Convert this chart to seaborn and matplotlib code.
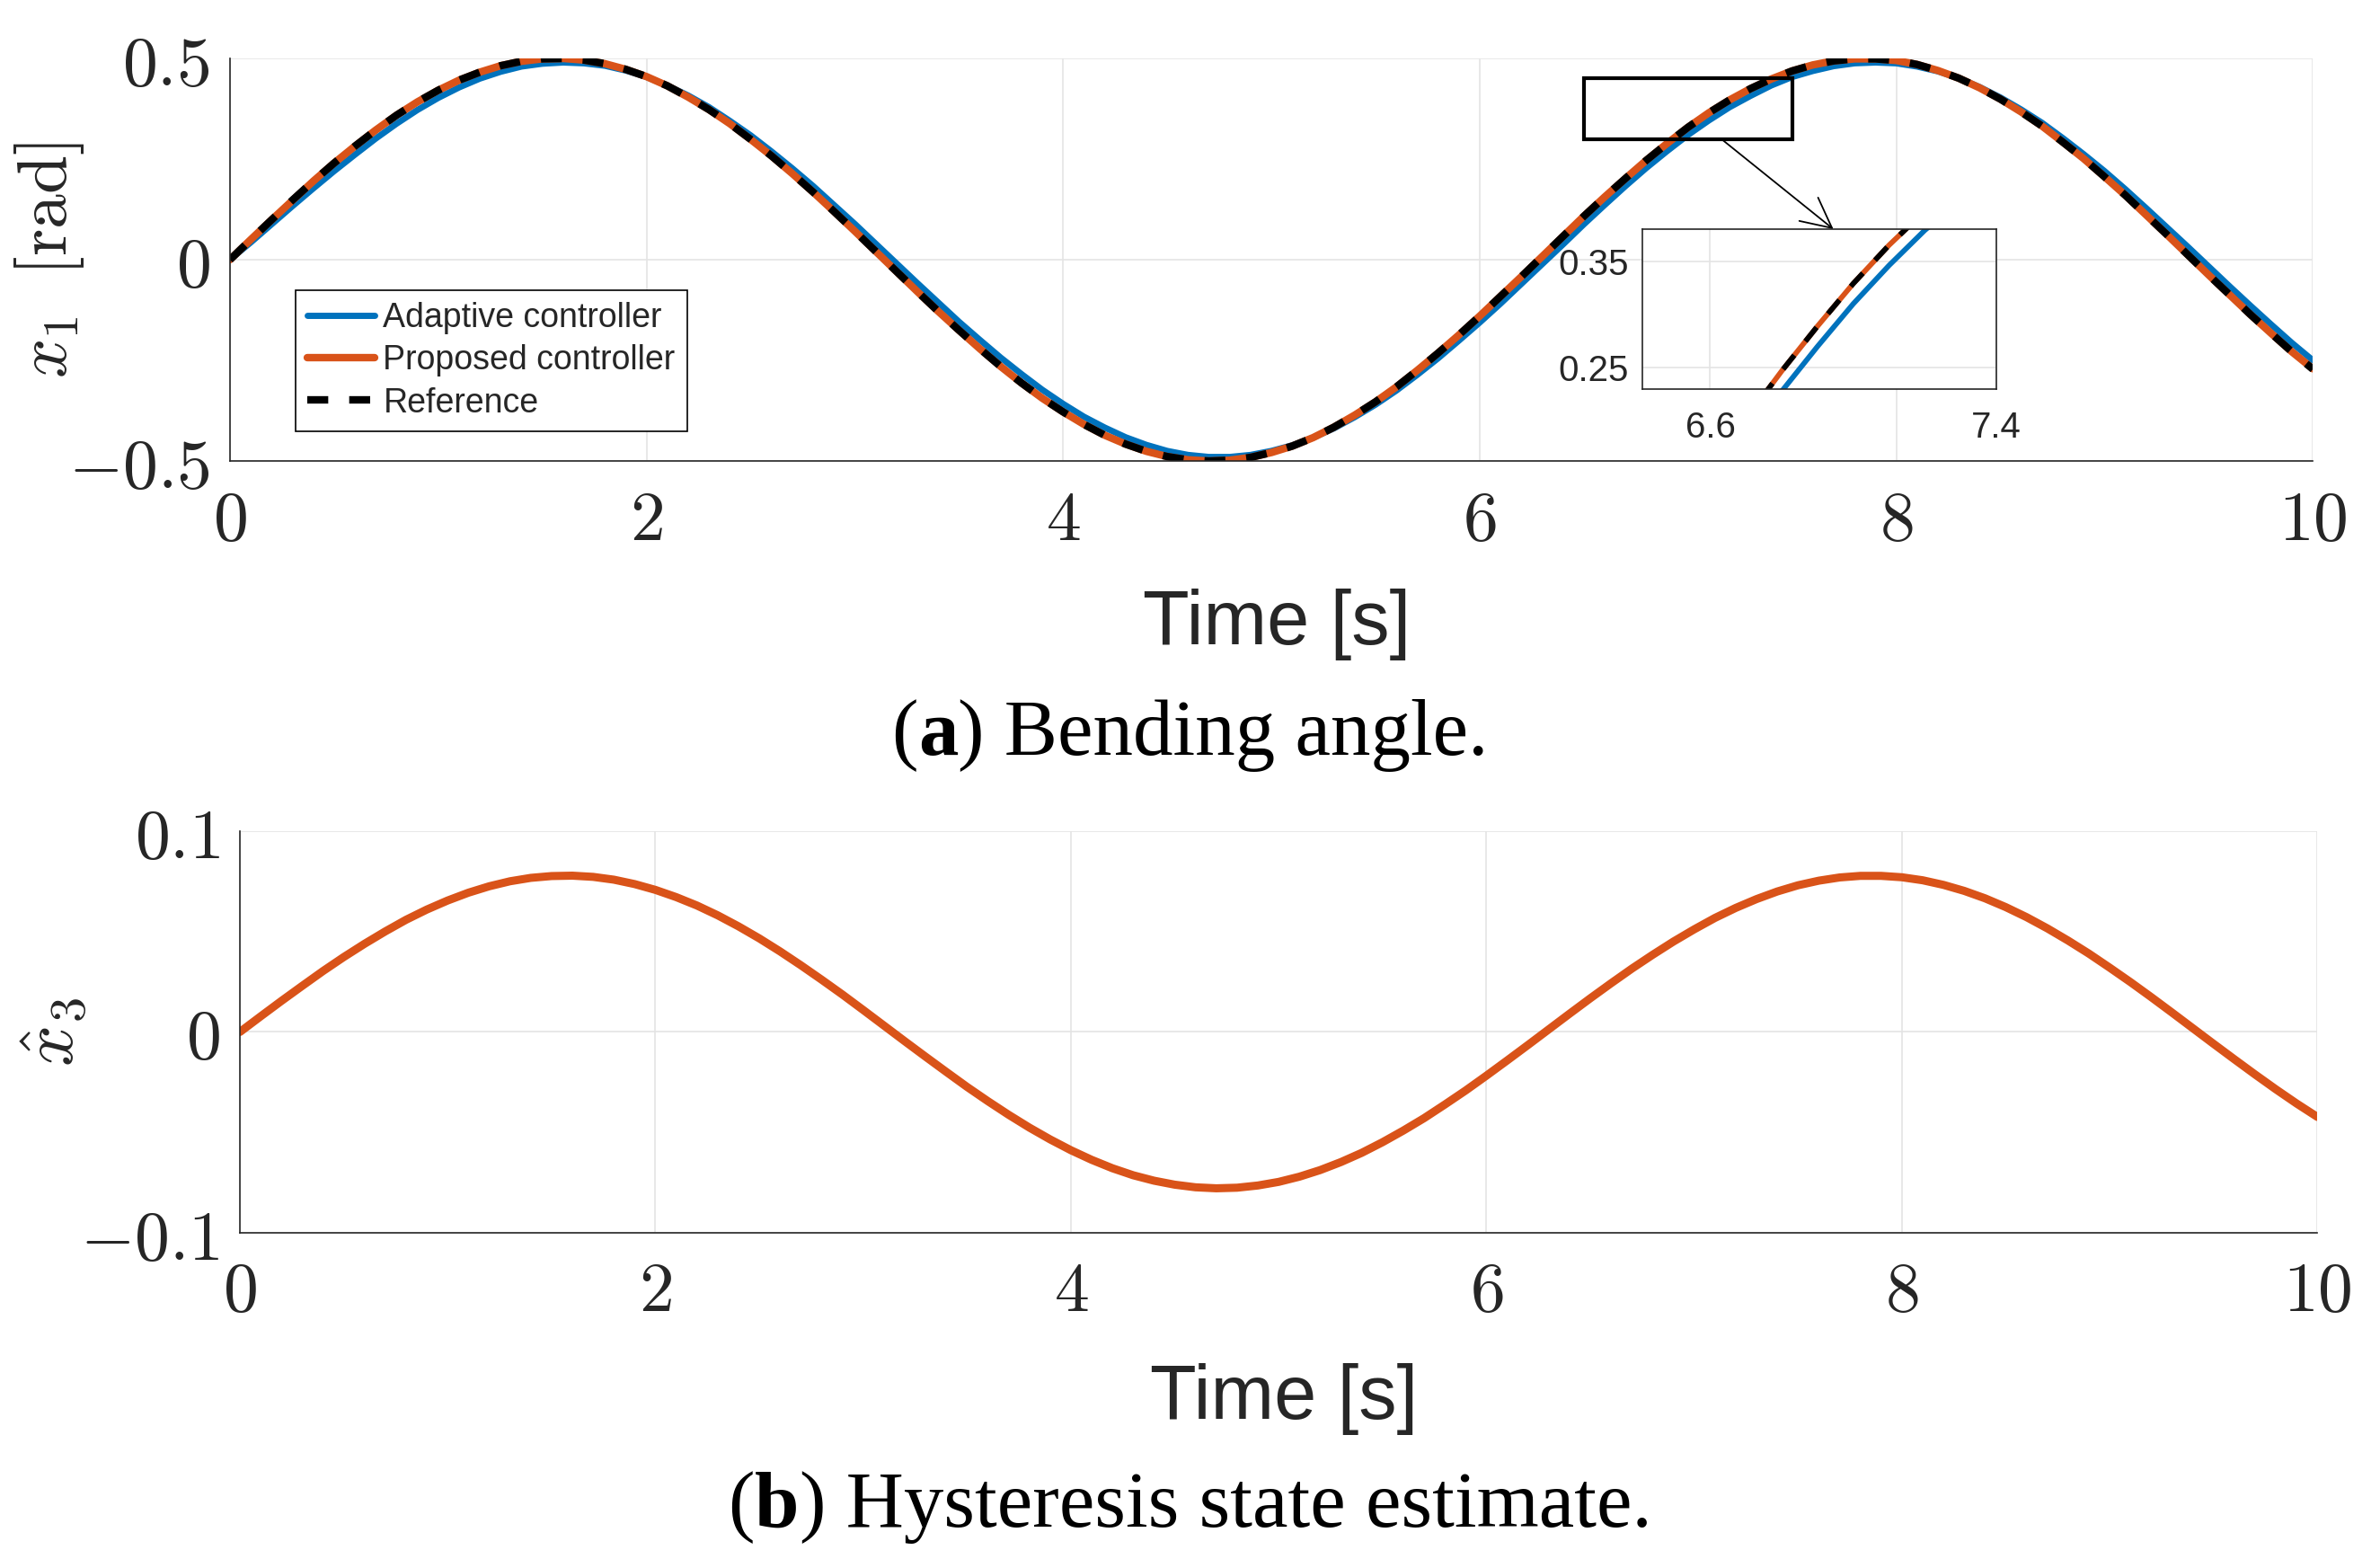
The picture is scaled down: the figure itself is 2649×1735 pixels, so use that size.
import numpy as np
import pandas as pd
import matplotlib
matplotlib.use("Agg")
import matplotlib.pyplot as plt
import seaborn as sns
from matplotlib.patches import Rectangle
from matplotlib.offsetbox import TextArea, HPacker, AnchoredOffsetbox

# sample times [s]
time_s = np.round(np.arange(0, 10.001, 0.1), 1)

# bending angle x1 [rad] (rows = 1 s)
ref_x1 = [0.000, 0.050, 0.099, 0.148, 0.195, 0.240, 0.282, 0.322, 0.359, 0.392,
          0.421, 0.446, 0.466, 0.482, 0.493, 0.499, 0.500, 0.496, 0.487, 0.473,
          0.455, 0.432, 0.404, 0.373, 0.338, 0.299, 0.258, 0.214, 0.168, 0.120,
          0.071, 0.021, -0.029, -0.079, -0.128, -0.175, -0.221, -0.265, -0.306, -0.344,
          -0.378, -0.409, -0.436, -0.458, -0.476, -0.489, -0.497, -0.500, -0.498, -0.491,
          -0.479, -0.463, -0.442, -0.416, -0.386, -0.353, -0.316, -0.275, -0.232, -0.187,
          -0.140, -0.091, -0.042, 0.008, 0.058, 0.108, 0.156, 0.202, 0.247, 0.289,
          0.329, 0.365, 0.397, 0.425, 0.449, 0.469, 0.484, 0.494, 0.499, 0.499,
          0.495, 0.485, 0.470, 0.451, 0.427, 0.399, 0.367, 0.332, 0.292, 0.251,
          0.206, 0.160, 0.111, 0.062, 0.012, -0.038, -0.087, -0.136, -0.183, -0.229,
          -0.272]
proposed_x1 = [0.000, 0.050, 0.099, 0.147, 0.195, 0.240, 0.282, 0.322, 0.359, 0.392,
               0.421, 0.446, 0.466, 0.482, 0.493, 0.499, 0.500, 0.496, 0.487, 0.473,
               0.455, 0.432, 0.404, 0.373, 0.338, 0.299, 0.258, 0.214, 0.168, 0.120,
               0.071, 0.021, -0.029, -0.079, -0.128, -0.175, -0.221, -0.265, -0.306, -0.344,
               -0.378, -0.409, -0.436, -0.458, -0.476, -0.489, -0.497, -0.500, -0.498, -0.491,
               -0.479, -0.463, -0.442, -0.416, -0.386, -0.353, -0.316, -0.275, -0.232, -0.187,
               -0.140, -0.091, -0.042, 0.008, 0.058, 0.108, 0.156, 0.202, 0.247, 0.289,
               0.329, 0.365, 0.397, 0.425, 0.449, 0.469, 0.484, 0.494, 0.499, 0.499,
               0.495, 0.485, 0.470, 0.451, 0.427, 0.399, 0.367, 0.332, 0.292, 0.251,
               0.206, 0.160, 0.111, 0.062, 0.012, -0.038, -0.087, -0.136, -0.183, -0.229,
               -0.271]
adaptive_x1 = [0.000, 0.043, 0.088, 0.133, 0.177, 0.220, 0.261, 0.301, 0.338, 0.372,
               0.402, 0.428, 0.450, 0.467, 0.480, 0.487, 0.490, 0.488, 0.482, 0.470,
               0.454, 0.433, 0.408, 0.379, 0.345, 0.309, 0.269, 0.227, 0.183, 0.136,
               0.089, 0.040, -0.009, -0.058, -0.106, -0.154, -0.199, -0.243, -0.284, -0.323,
               -0.358, -0.390, -0.417, -0.441, -0.460, -0.475, -0.485, -0.490, -0.490, -0.485,
               -0.475, -0.461, -0.442, -0.419, -0.391, -0.360, -0.325, -0.286, -0.245, -0.201,
               -0.156, -0.109, -0.060, -0.011, 0.038, 0.088, 0.136, 0.183, 0.228, 0.270,
               0.310, 0.346, 0.379, 0.407, 0.433, 0.454, 0.469, 0.481, 0.488, 0.490,
               0.488, 0.480, 0.468, 0.451, 0.429, 0.403, 0.373, 0.340, 0.302, 0.262,
               0.220, 0.175, 0.128, 0.080, 0.032, -0.017, -0.066, -0.114, -0.161, -0.207,
               -0.250]

# hysteresis state estimate
x3_hat = [0.0000, 0.0078, 0.0155, 0.0230, 0.0304, 0.0374, 0.0440, 0.0502, 0.0560, 0.0611,
          0.0656, 0.0695, 0.0727, 0.0752, 0.0769, 0.0778, 0.0780, 0.0774, 0.0760, 0.0738,
          0.0709, 0.0673, 0.0631, 0.0582, 0.0527, 0.0467, 0.0402, 0.0333, 0.0261, 0.0187,
          0.0110, 0.0032, -0.0046, -0.0123, -0.0199, -0.0274, -0.0345, -0.0413, -0.0477, -0.0536,
          -0.0590, -0.0638, -0.0680, -0.0715, -0.0742, -0.0762, -0.0775, -0.0780, -0.0777, -0.0766,
          -0.0748, -0.0722, -0.0689, -0.0649, -0.0603, -0.0550, -0.0492, -0.0430, -0.0362, -0.0292,
          -0.0218, -0.0142, -0.0065, 0.0013, 0.0091, 0.0168, 0.0243, 0.0316, 0.0385, 0.0451,
          0.0512, 0.0569, 0.0619, 0.0663, 0.0701, 0.0732, 0.0755, 0.0771, 0.0779, 0.0779,
          0.0772, 0.0757, 0.0734, 0.0704, 0.0667, 0.0623, 0.0573, 0.0517, 0.0456, 0.0391,
          0.0321, 0.0249, 0.0174, 0.0097, 0.0019, -0.0059, -0.0136, -0.0212, -0.0286, -0.0357,
          -0.0424]

x_ticks = [0, 2, 4, 6, 8, 10]
y1_ticks = [-0.5, 0, 0.5]
y1_labels = ["$-0.5$", "$0$", "$0.5$"]
y2_ticks = [-0.1, 0, 0.1]
y2_labels = ["$-0.1$", "$0$", "$0.1$"]
zoom_xticks = [6.6, 7.4]
zoom_yticks = [0.25, 0.35]

BLUE = "#0072BD"
ORANGE = "#D95319"
AXC = "#262626"
GRID = "#e4e4e4"

sns.set_style("white")
plt.rcParams["font.family"] = ["DejaVu Sans"]
plt.rcParams["mathtext.fontset"] = "cm"

df = pd.DataFrame({"t": time_s, "adaptive": adaptive_x1, "proposed": proposed_x1,
                   "reference": ref_x1, "x3": x3_hat})

fig = plt.figure(figsize=(26.49, 17.35), dpi=100)
fig.patch.set_facecolor("white")
ax1 = fig.add_axes([0.0966, 0.7043, 0.8752, 0.2582])
ax2 = fig.add_axes([0.1008, 0.2095, 0.8729, 0.2571])


def style_main(ax, yt, ytl):
    ax.set_xlim(0, 10)
    ax.set_xticks(x_ticks)
    ax.set_xticklabels([f"${v}$" for v in x_ticks])
    ax.set_yticks(yt)
    ax.set_yticklabels(ytl)
    ax.set_xlabel("")
    ax.grid(True, color=GRID, lw=1.2)
    ax.set_axisbelow(True)
    for s in ["top", "right"]:
        ax.spines[s].set_visible(False)
    for s in ["left", "bottom"]:
        ax.spines[s].set_color(AXC)
        ax.spines[s].set_linewidth(1.2)
    ax.tick_params(direction="in", length=10, width=1.2, color=AXC,
                   labelsize=56, labelcolor=AXC)
    ax.tick_params(axis="y", pad=16)
    ax.tick_params(axis="x", pad=20)


def draw_x1(ax, lw_a, lw_p, dash, labels=True):
    sns.lineplot(data=df, x="t", y="adaptive", ax=ax, color=BLUE, linewidth=lw_a,
                 errorbar=None, label="Adaptive controller" if labels else None)
    sns.lineplot(data=df, x="t", y="proposed", ax=ax, color=ORANGE, linewidth=lw_p,
                 errorbar=None, label="Proposed controller" if labels else None)
    sns.lineplot(data=df, x="t", y="reference", ax=ax, color="black", linewidth=lw_p,
                 linestyle="--", errorbar=None, label="Reference" if labels else None)
    ax.lines[-1].set_dashes(dash)


# (a) bending angle
draw_x1(ax1, 5, 6, [2.8, 2.8])
style_main(ax1, y1_ticks, y1_labels)
ax1.set_ylim(-0.5, 0.5)
ax1.set_ylabel(r"$x_1\;\;[\mathrm{rad}]$", fontsize=56, color=AXC)
ax1.yaxis.set_label_coords(-0.069, 0.5)
leg = ax1.legend(loc="upper left", bbox_to_anchor=(329 / 2649, 1 - 323 / 1735),
                 bbox_transform=fig.transFigure, borderaxespad=0, frameon=True,
                 fancybox=False, framealpha=1, edgecolor="black",
                 prop={"family": "Liberation Sans", "size": 27},
                 handlelength=2.0, handletextpad=0.25, labelspacing=0.3,
                 borderpad=0.35)
leg.get_frame().set_linewidth(1.2)

ax1.add_patch(Rectangle((6.5, 0.30), 1.0, 0.15, fill=False, ec="black", lw=3, zorder=5))

# zoom inset
axin = fig.add_axes([0.6900, 0.7504, 0.1488, 0.1026])
draw_x1(axin, 4.2, 4.2, [3.4, 3.4], labels=False)
axin.set_xlim(6.41, 7.4)
axin.set_ylim(0.23, 0.38)
axin.set_xticks(zoom_xticks)
axin.set_xticklabels([str(v) for v in zoom_xticks], family="Liberation Sans")
axin.set_yticks(zoom_yticks)
axin.set_yticklabels([str(v) for v in zoom_yticks], family="Liberation Sans")
axin.set_xlabel("")
axin.set_ylabel("")
axin.grid(True, color=GRID, lw=1.2)
axin.set_axisbelow(True)
for s in axin.spines.values():
    s.set_visible(True)
    s.set_color(AXC)
    s.set_linewidth(1.2)
axin.tick_params(direction="in", length=6, width=1.0, color=AXC,
                 labelsize=29, labelcolor=AXC, pad=11)
axin.tick_params(axis="x", pad=17)

ax1.annotate("", xy=(0.54, 1.0), xycoords=axin.transAxes, xytext=(7.16, 0.30),
             textcoords="data",
             arrowprops=dict(arrowstyle="->,head_length=0.6,head_width=0.3",
                             lw=1.3, color="black", mutation_scale=40,
                             shrinkA=0, shrinkB=0))

# (b) hysteresis state estimate
sns.lineplot(data=df, x="t", y="x3", ax=ax2, color=ORANGE, linewidth=6.5, errorbar=None)
style_main(ax2, y2_ticks, y2_labels)
ax2.set_ylim(-0.1, 0.1)
ax2.set_ylabel(r"$\hat{x}_3$", fontsize=58, color=AXC)
ax2.yaxis.set_label_coords(-0.073, 0.5)

fig.text(0.5365, 0.5869, "Time [s]", ha="center", va="baseline",
         family="Liberation Sans", size=61, color=AXC)
fig.text(0.5395, 0.0900, "Time [s]", ha="center", va="baseline",
         family="Liberation Sans", size=61, color=AXC)


def caption(letter, rest, y):
    tp = {"family": "Liberation Serif", "size": 64, "color": "black"}
    parts = [TextArea("(", textprops=tp),
             TextArea(letter, textprops=dict(tp, weight="bold")),
             TextArea(") " + rest, textprops=tp)]
    box = HPacker(children=parts, align="baseline", pad=0, sep=0)
    anch = AnchoredOffsetbox(loc="center", child=box, frameon=False, pad=0,
                             borderpad=0, bbox_to_anchor=(0.5, y),
                             bbox_transform=fig.transFigure)
    fig.add_artist(anch)


caption("a", "Bending angle.", 0.528)
caption("b", "Hysteresis state estimate.", 0.033)

fig.savefig("out.png", dpi=100)
